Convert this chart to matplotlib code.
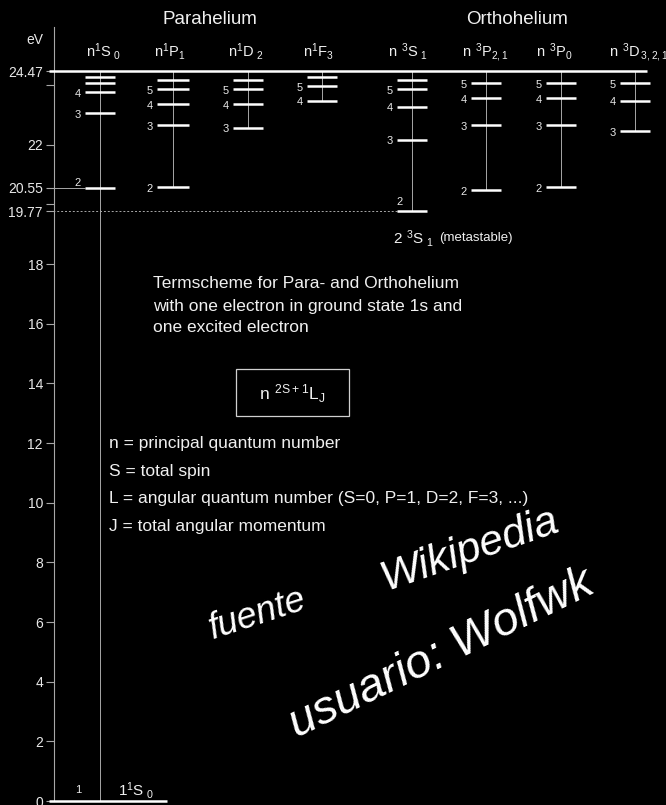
import matplotlib
matplotlib.use('Agg')
import matplotlib.pyplot as plt
from matplotlib.patches import Rectangle

plt.rcParams['font.family'] = ['Liberation Sans', 'DejaVu Sans']

# ---- data: term energies in eV ----
ion_limit = 24.47
metastable = 19.77

n_1S0 = [1, 2, 3, 4, 5, 6]
E_1S0 = [0.0, 20.55, 23.06, 23.76, 24.06, 24.26]
n_1P1 = [2, 3, 4, 5, 6]
E_1P1 = [20.57, 22.66, 23.36, 23.86, 24.17]
n_1D2 = [3, 4, 5, 6]
E_1D2 = [22.57, 23.36, 23.86, 24.17]
n_1F3 = [4, 5, 6]
E_1F3 = [23.48, 23.96, 24.26]
n_3S1 = [2, 3, 4, 5, 6]
E_3S1 = [19.77, 22.17, 23.27, 23.86, 24.17]
n_3P21 = [2, 3, 4, 5]
E_3P21 = [20.47, 22.66, 23.56, 24.06]
n_3P0 = [2, 3, 4, 5]
E_3P0 = [20.57, 22.66, 23.56, 24.06]
n_3D = [3, 4, 5]
E_3D = [22.46, 23.47, 24.06]

# which n get a number next to the level
lab_1S0 = [3, 4]
lab_1P1 = [2, 3, 4, 5]
lab_1D2 = [3, 4, 5]
lab_1F3 = [4, 5]
lab_3S1 = [3, 4, 5]
lab_3P21 = [2, 3, 4, 5]
lab_3P0 = [2, 3, 4, 5]
lab_3D = [3, 4, 5]

headers = [r'$\mathregular{n^{1}S_{\ 0}}$', r'$\mathregular{n^{1}P_{1}}$',
           r'$\mathregular{n^{1}D_{\ 2}}$', r'$\mathregular{n^{1}F_{3}}$',
           r'$\mathregular{n\ {}^{3}S_{\ 1}}$', r'$\mathregular{n\ {}^{3}P_{2,1}}$',
           r'$\mathregular{n\ {}^{3}P_{0}}$', r'$\mathregular{n\ {}^{3}D_{\,3,2,1}}$']

y_ticks = [0, 2, 4, 6, 8, 10, 12, 14, 16, 18, 19.77, 20, 20.55, 22, 24, 24.47]
y_tick_labels = ['0', '2', '4', '6', '8', '10', '12', '14', '16', '18',
                 '19.77', '', '20.55', '22', '', '24.47']

definitions = ['n = principal quantum number',
               'S = total spin',
               'L = angular quantum number (S=0, P=1, D=2, F=3, ...)',
               'J = total angular momentum']

# ---- layout (x in pixels, y in eV) ----
W, H = 666, 805
Y0_PX = 801          # pixel row of 0 eV
PX_PER_EV = 29.83


def ev(p):
    return (Y0_PX - p) / PX_PER_EV


fig = plt.figure(figsize=(W / 100, H / 100), dpi=100, facecolor='black')
ax = fig.add_axes([0, 0, 1, 1], facecolor='black')
ax.set_xlim(0, W)
ax.set_ylim(ev(H), ev(0))

white = 'white'
grey = '#a8a8a8'
txt_col = '#f0f0f0'
axis_x = 54

# y axis as a spine
for s in ['top', 'right', 'bottom']:
    ax.spines[s].set_visible(False)
ax.spines['left'].set_position(('data', axis_x))
ax.spines['left'].set_bounds(0, ev(27))
ax.spines['left'].set_color(grey)
ax.spines['left'].set_linewidth(0.8)
ax.set_xticks([])
ax.set_yticks(y_ticks)
ax.set_yticklabels(y_tick_labels)
ax.tick_params(axis='y', colors=grey, labelcolor='#e8e8e8', labelsize=10,
               length=6, width=0.8, pad=2)
ax.text(43, ev(40), 'eV', color='#e8e8e8', fontsize=10, ha='right', va='center')

# columns: (n, E, labelled n, centre x, half width)
columns = [
    (n_1S0, E_1S0, lab_1S0, 100, 15),
    (n_1P1, E_1P1, lab_1P1, 173, 16),
    (n_1D2, E_1D2, lab_1D2, 248, 15),
    (n_1F3, E_1F3, lab_1F3, 322, 15),
    (n_3S1, E_3S1, lab_3S1, 412, 15),
    (n_3P21, E_3P21, lab_3P21, 486, 15),
    (n_3P0, E_3P0, lab_3P0, 561, 15),
    (n_3D, E_3D, lab_3D, 635, 15),
]
header_x = [103, 170, 246, 318, 408, 485, 554, 609]

for (ns, Es, labs, xc, hw), hdr, hx in zip(columns, headers, header_x):
    ax.vlines(xc, min(Es), ion_limit, color=grey, lw=0.7, zorder=1)
    levels = [(n, e) for n, e in zip(ns, Es) if n > 1]
    ax.hlines([e for _, e in levels], xc - hw, xc + hw, color=white, lw=1.8, zorder=3)
    for n, e in levels:
        if n in labs:
            ax.text(xc - hw - 4, e - 0.05, str(n), color='#e8e8e8', fontsize=8,
                    ha='right', va='center')
    ha = 'left' if hx == header_x[-1] else 'center'
    ax.text(hx, ev(57), hdr, color=txt_col, fontsize=10.5, ha=ha, va='baseline')

# special labels for the n=2 levels of S columns
ax.text(78, ev(183), '2', color='#e8e8e8', fontsize=8, ha='center', va='center')
ax.text(400, ev(202), '2', color='#e8e8e8', fontsize=8, ha='center', va='center')

# ionisation limit
ax.hlines(ion_limit, 49, 647, color=white, lw=1.8, zorder=4)
# ground state 1 1S0
ax.hlines(E_1S0[0], 49, 167, color=white, lw=1.8, zorder=4, clip_on=False)
ax.text(78, ev(790), '1', color='#e8e8e8', fontsize=8, ha='center', va='center')
ax.text(118, ev(790), r'$\mathregular{1^{1}S_{\ 0}}$', color=txt_col,
        fontsize=11, ha='left', va='center')
# guide lines to axis
ax.hlines(E_1S0[1], 49, 85, color=grey, lw=0.7, zorder=1)
ax.hlines(metastable, 49, 397, color=grey, lw=0.7, linestyles=(0, (2, 2)), zorder=1)
ax.text(393, ev(238), r'$\mathregular{2\ {}^{3}S_{\ 1}}$', color=txt_col,
        fontsize=11, ha='left', va='center')
ax.text(439, ev(238), '(metastable)', color=txt_col, fontsize=9.5,
        ha='left', va='center')

# group titles
ax.text(210, ev(20), 'Parahelium', color=txt_col, fontsize=13.5, ha='center', va='center')
ax.text(517, ev(20), 'Orthohelium', color=txt_col, fontsize=13.5, ha='center', va='center')

# description
for txt, py in zip(['Termscheme for Para- and Orthohelium',
                    'with one electron in ground state 1s and',
                    'one excited electron'], [283, 306, 328]):
    ax.text(153, ev(py), txt, color=txt_col, fontsize=12.5, ha='left', va='center')

ax.add_patch(Rectangle((236, ev(416)), 113, ev(369) - ev(416), fill=False,
                       edgecolor='#d0d0d0', lw=0.9))
ax.text(292, ev(394), r'$\mathregular{n\ {}^{2S+1}L_{J}}$', color=txt_col,
        fontsize=12.5, ha='center', va='center')

for txt, py in zip(definitions, [443, 471, 498, 526]):
    ax.text(109, ev(py), txt, color=txt_col, fontsize=12.5, ha='left', va='center')

# handwritten note on the picture
ax.text(258, ev(614), 'fuente', color=white, fontsize=26, rotation=18,
        ha='center', va='center', style='italic')
ax.text(470, ev(550), 'Wikipedia', color=white, fontsize=31, rotation=19,
        ha='center', va='center', style='italic')
ax.text(442, ev(654), 'usuario: Wolfwk', color=white, fontsize=34, rotation=26,
        ha='center', va='center', style='italic')

fig.savefig('out.png', dpi=100, facecolor='black')
